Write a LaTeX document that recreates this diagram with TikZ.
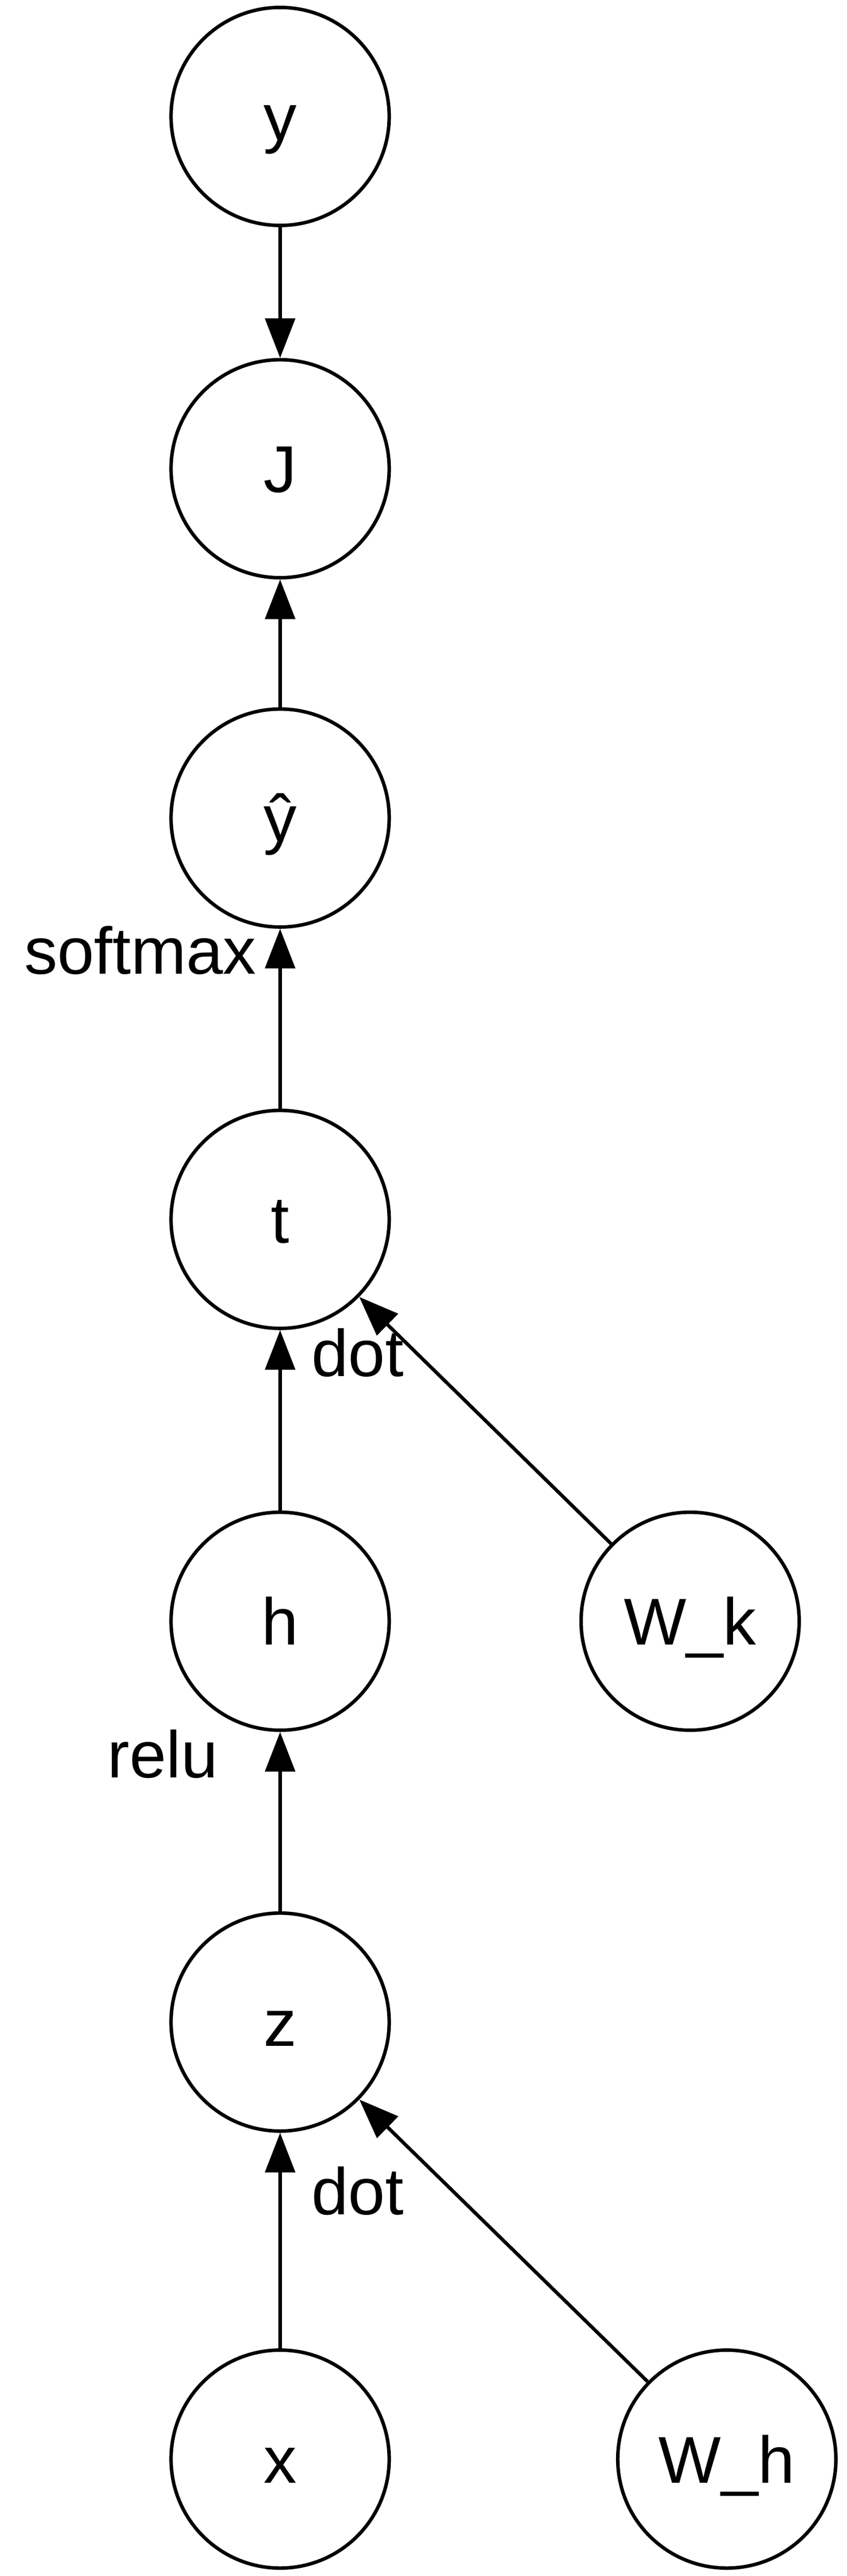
\documentclass[tikz,border=0pt]{standalone}
\usepackage{fontspec}
\setmainfont{Liberation Sans}
\usetikzlibrary{arrows.meta}
\newcommand{\flowdraw}[2]{\draw[-{Triangle[length=8mm, width=6mm]}] (#1) -- (#2)}
\tikzset{
    var/.style={circle, draw, line width=2pt, minimum size=4.4cm, inner sep=0pt, text height=0.96cm, text depth=0pt},
    oplabel/.style={inner sep=0pt}
}

\begin{document}
\begin{tikzpicture}[line width=2pt, font=\fontsize{38}{46}\selectfont]
                    \useasboundingbox (0,0) rectangle (17.08,-51.99);

                    \node[var] (y) at (5.65,-2.35) {y};
                    \node[var] (J) at (5.65,-9.46) {J};
                    \node[var] (yhat) at (5.65,-16.51) {ŷ};
                    \node[var] (t) at (5.65,-24.61) {t};
                    \node[var] (h) at (5.65,-32.72) {h};
                    \node[var] (Wk) at (13.92,-32.72) {W\_k};
                    \node[var] (z) at (5.65,-40.81) {z};
                    \node[var] (x) at (5.65,-49.63) {x};
                    \node[var] (Wh) at (14.66,-49.63) {W\_h};

                    \node[oplabel, anchor=base east] (softmax) at (5.20,-19.66) {softmax};
                    \node[oplabel, anchor=base west] (dott) at (6.25,-27.78) {dot};
                    \node[oplabel, anchor=base east] (relu) at (4.43,-35.88) {relu};
                    \node[oplabel, anchor=base west] (dotz) at (6.25,-44.70) {dot};

                    \flowdraw{y}{J};
                    \flowdraw{yhat}{J};
                    \flowdraw{t}{yhat};
                    \flowdraw{h}{t};
                    \flowdraw{Wk}{t};
                    \flowdraw{z}{h};
                    \flowdraw{x}{z};
                    \flowdraw{Wh}{z};
                \end{tikzpicture}
\end{document}
